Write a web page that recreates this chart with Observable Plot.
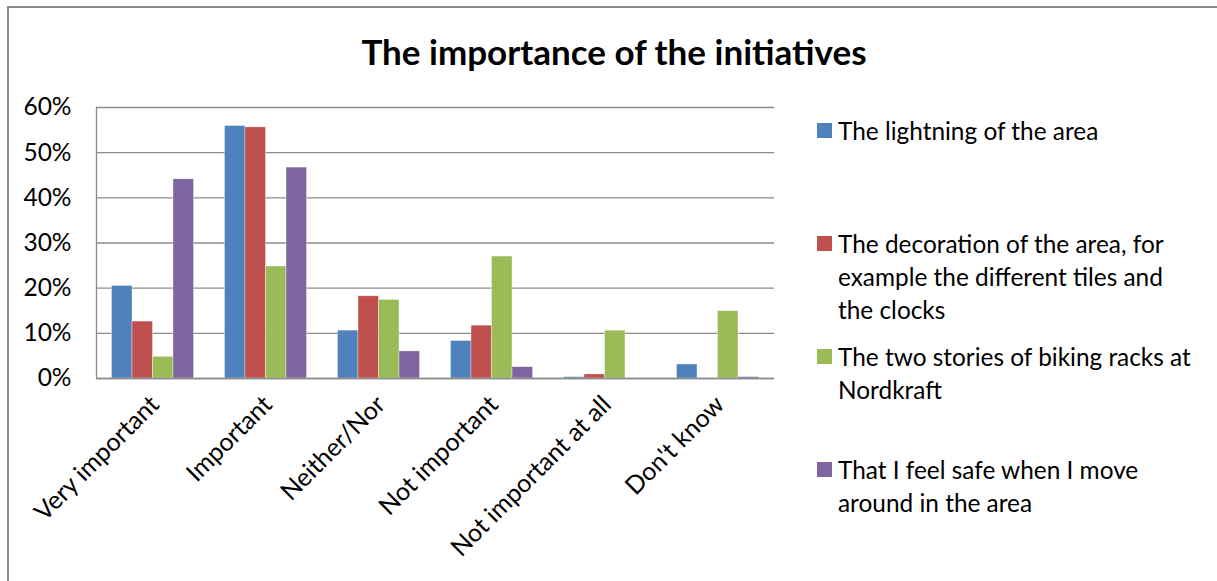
<!DOCTYPE html>
<html><head><meta charset="utf-8">
<script src="https://cdn.jsdelivr.net/npm/d3@7"></script>
<script src="https://cdn.jsdelivr.net/npm/@observablehq/plot@0.6"></script>
<style>
html,body{margin:0;padding:0;background:#fff;}
#wrap{position:relative;width:1217px;height:581px;overflow:hidden;font-family:Lato, sans-serif;color:#000;}
#border{position:absolute;left:7px;top:6px;right:-10px;bottom:-10px;border-left:2px solid #8c8c8c;border-top:2px solid #8c8c8c;pointer-events:none;}
#title{position:absolute;left:0;width:1228px;top:30px;text-align:center;font-weight:bold;font-size:35px;line-height:42px;}
#legend{position:absolute;left:817px;top:113.5px;}
.item{position:relative;height:113.3px;}
.sw{position:absolute;left:0;width:15px;height:15px;top:9px;}
.txt{position:absolute;left:21px;top:0;line-height:33px;font-size:24.4px;white-space:nowrap;}
#chart{position:absolute;left:0;top:0;}
</style></head>
<body>
<div id="wrap">
  <div id="chart"></div>
  <div id="title"></div>
  <div id="legend"></div>
  <div id="border"></div>
</div>
<script>
const title = "The importance of the initiatives";
const categories = ["Very important", "Important", "Neither/Nor", "Not important", "Not important at all", "Don't know"];
const seriesNames = [
  "The lightning of the area",
  "The decoration of the area, for example the different tiles and the clocks",
  "The two stories of biking racks at Nordkraft",
  "That I feel safe when I move around in the area"
];
const legendLines = [
  ["The lightning of the area"],
  ["The decoration of the area, for", "example the different tiles and", "the clocks"],
  ["The two stories of biking racks at", "Nordkraft"],
  ["That I feel safe when I move", "around in the area"]
];
const lightning  = [0.205, 0.559, 0.106, 0.083, 0.003, 0.031];
const decoration = [0.126, 0.556, 0.182, 0.117, 0.009, 0.000];
const bikeRacks  = [0.048, 0.248, 0.174, 0.270, 0.106, 0.149];
const safety     = [0.441, 0.467, 0.060, 0.025, 0.000, 0.003];
const yTicks = [0, 0.1, 0.2, 0.3, 0.4, 0.5, 0.6];
const colors = ["#4F81BD", "#C0504D", "#9BBB59", "#8064A2"];

const seriesValues = [lightning, decoration, bikeRacks, safety];
const table = [];
seriesValues.forEach((vals, j) => vals.forEach((v, i) => table.push({category: categories[i], series: seriesNames[j], value: v, i, j})));

const barW = 0.1815;
const half = 2 * barW;

const chart = Plot.plot({
  width: 1217,
  height: 581,
  marginLeft: 96,
  marginRight: 443,
  marginTop: 107,
  marginBottom: 203,
  style: {fontFamily: "Lato, sans-serif", fontSize: "24px", color: "#000", background: "transparent"},
  x: {domain: [-0.5, categories.length - 0.5], axis: null},
  y: {domain: [0, 0.6], axis: null},
  color: {domain: seriesNames, range: colors},
  marks: [
    Plot.gridY(yTicks, {stroke: "#8c8c8c", strokeOpacity: 1, strokeWidth: 1.3}),
    Plot.rect(table.filter(d => d.value > 0), {
      x1: d => d.i - half + d.j * barW,
      x2: d => d.i - half + (d.j + 1) * barW,
      y1: 0,
      y2: "value",
      fill: "series",
      stroke: "white",
      strokeWidth: 0.6,
      strokeOpacity: 0.6
    }),
    Plot.ruleY([0], {stroke: "#8c8c8c", strokeWidth: 1.5}),
    Plot.ruleX([-0.5], {y1: 0, y2: 0.6, stroke: "#8c8c8c", strokeWidth: 1.3}),
    Plot.axisY(yTicks, {tickFormat: d3.format(".0%"), tickSize: 0, tickPadding: 25, fontSize: 24.5, label: null}),
    Plot.axisX(d3.range(categories.length), {tickFormat: i => categories[i], tickRotate: -45, tickSize: 0, tickPadding: 22, dx: 2, fontSize: 25, label: null})
  ]
});
document.getElementById("chart").appendChild(chart);
document.getElementById("title").textContent = title;

const legend = document.getElementById("legend");
legendLines.forEach((lines, j) => {
  const item = document.createElement("div");
  item.className = "item";
  const sw = document.createElement("div");
  sw.className = "sw";
  sw.style.background = colors[j];
  const txt = document.createElement("div");
  txt.className = "txt";
  txt.innerHTML = lines.map(l => l.replace(/&/g, "&amp;").replace(/</g, "&lt;")).join("<br>");
  item.appendChild(sw);
  item.appendChild(txt);
  legend.appendChild(item);
});
</script>
</body></html>
